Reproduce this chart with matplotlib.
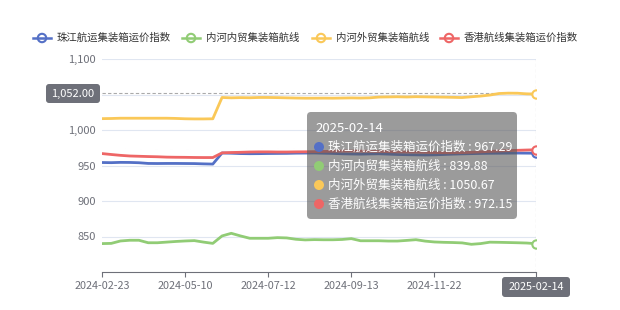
import matplotlib
matplotlib.use('Agg')
import matplotlib.pyplot as plt
from matplotlib.lines import Line2D
from matplotlib.patches import FancyBboxPatch, Circle
import matplotlib.transforms as mtransforms

plt.rcParams['font.family'] = ['Noto Sans CJK SC', 'DejaVu Sans']

dates = ['2024-02-23', '2024-03-01', '2024-03-08', '2024-03-15', '2024-03-22', '2024-03-29',
         '2024-04-12', '2024-04-19', '2024-04-26', '2024-05-10', '2024-05-17', '2024-05-24',
         '2024-05-31', '2024-06-07', '2024-06-14', '2024-06-21', '2024-06-28', '2024-07-05',
         '2024-07-12', '2024-07-19', '2024-07-26', '2024-08-02', '2024-08-09', '2024-08-16',
         '2024-08-23', '2024-08-30', '2024-09-06', '2024-09-13', '2024-09-20', '2024-09-27',
         '2024-10-11', '2024-10-18', '2024-10-25', '2024-11-01', '2024-11-08', '2024-11-15',
         '2024-11-22', '2024-11-29', '2024-12-06', '2024-12-13', '2024-12-20', '2024-12-27',
         '2025-01-03', '2025-01-10', '2025-01-17', '2025-01-24', '2025-02-07', '2025-02-14']

series_names = ['珠江航运集装箱运价指数', '内河内贸集装箱航线', '内河外贸集装箱航线', '香港航线集装箱运价指数']
colors = ['#5470c6', '#91cc75', '#fac858', '#ee6666']

zhujiang = [954.2, 954.0, 954.4, 954.3, 953.9, 952.9, 952.8, 952.9, 952.9, 952.8, 952.7, 952.3,
            952.0, 967.6, 967.3, 966.8, 966.6, 966.7, 966.9, 967.0, 967.1, 967.4, 967.5, 967.6,
            967.3, 967.0, 966.5, 966.2, 966.0, 966.3, 966.5, 966.0, 965.5, 965.2, 965.0, 964.8,
            965.0, 965.5, 966.0, 966.4, 966.7, 967.0, 967.2, 967.3, 967.4, 967.5, 967.4, 967.29]

neihe_neimao = [840.0, 840.3, 843.7, 844.7, 844.7, 841.2, 841.2, 842.1, 843.0, 843.7, 844.2, 842.1,
                840.3, 850.8, 854.5, 850.8, 847.5, 847.5, 847.5, 848.4, 848.0, 846.1, 845.2, 845.6,
                845.4, 845.4, 845.8, 847.0, 844.0, 844.0, 844.0, 843.6, 843.6, 844.5, 845.5, 843.5,
                842.3, 841.8, 841.5, 841.0, 839.0, 840.0, 842.0, 841.8, 841.5, 841.2, 840.8, 839.88]

neihe_waimao = [1016.0, 1016.2, 1016.6, 1016.6, 1016.6, 1016.6, 1016.6, 1016.6, 1016.3, 1015.8,
                1015.6, 1015.6, 1015.8, 1045.8, 1045.3, 1045.6, 1045.4, 1045.8, 1045.8, 1045.6,
                1045.3, 1045.0, 1044.8, 1044.8, 1044.9, 1044.8, 1045.0, 1045.2, 1045.0, 1045.3,
                1046.4, 1046.6, 1046.8, 1046.5, 1046.9, 1046.7, 1046.5, 1046.3, 1046.0, 1045.7,
                1046.8, 1047.8, 1049.2, 1051.4, 1051.9, 1051.8, 1050.9, 1050.67]

xianggang = [966.8, 965.5, 964.3, 963.4, 963.0, 962.6, 962.3, 961.8, 961.6, 961.5, 961.3, 961.2,
             961.2, 967.8, 968.3, 968.6, 969.0, 969.2, 969.2, 969.0, 969.0, 969.2, 969.3, 969.5,
             969.8, 970.0, 970.2, 970.3, 970.2, 970.0, 969.8, 969.5, 969.2, 969.0, 968.8, 968.5,
             968.2, 968.0, 968.0, 968.2, 968.6, 969.2, 969.8, 970.4, 970.9, 971.4, 971.8, 972.15]

all_series = [zhujiang, neihe_neimao, neihe_waimao, xianggang]
yticks = [850, 900, 950, 1000, 1050, 1100]
xtick_idx = [0, 9, 18, 27, 36, 47]
pointer_y = 1052.0

W, H = 620, 310
fig = plt.figure(figsize=(W / 100, H / 100), dpi=100)
# pixel coordinates, origin top-left
px = mtransforms.Affine2D().scale(1 / W, -1 / H).translate(0, 1) + fig.transFigure

ax = fig.add_axes([102 / W, 38 / H, 434 / W, 213 / H])
x = list(range(len(dates)))
for vals, c in zip(all_series, colors):
    ax.plot(x, vals, color=c, lw=2.0, solid_capstyle='round', zorder=3)
    ax.plot(x[-1], vals[-1], 'o', ms=6, mfc='white', mec=c, mew=1.5, zorder=4)

ax.set_xlim(0, len(dates) - 1)
ax.set_ylim(800, 1100)
for s in ['top', 'right', 'left']:
    ax.spines[s].set_visible(False)
ax.spines['bottom'].set_color('#6e7079')
ax.set_yticks(yticks)
# the 1,050 label sits under the axis-pointer label, as in the reference
ax.set_yticklabels(['' if v == 1050 else f'{v:,}' for v in yticks])
ax.tick_params(axis='y', length=0, pad=4.5, labelsize=8, labelcolor='#6e7079')
ax.set_xticks(xtick_idx)
ax.set_xticklabels([dates[i] for i in xtick_idx])
ax.tick_params(axis='x', length=3.6, color='#6e7079', pad=3, labelsize=7.8, labelcolor='#6e7079')
ax.grid(axis='y', color='#e0e6f1', lw=0.8)
ax.set_axisbelow(True)

# axis pointer
ax.axhline(pointer_y, color='#aaaaaa', lw=0.8, ls=(0, (3, 2)), zorder=2)
ax.axvline(len(dates) - 1, color='#aaaaaa', lw=0.8, ls=(0, (3, 2)), zorder=2)

fig.add_artist(FancyBboxPatch((46, 84), 54, 19, boxstyle='round,pad=0,rounding_size=3',
                              fc='#6e7079', ec='none', transform=px))
fig.text(73 / W, 1 - 93.5 / H, f'{pointer_y:,.2f}', color='white', fontsize=8,
         ha='center', va='center')
fig.add_artist(FancyBboxPatch((502, 277), 68, 20, boxstyle='round,pad=0,rounding_size=3',
                              fc='#6e7079', ec='none', transform=px))
fig.text(536 / W, 1 - 287 / H, dates[-1], color='white', fontsize=7.8, ha='center', va='center')

# legend
leg_icon = [33, 182, 312, 440]
for i, (name, c) in enumerate(zip(series_names, colors)):
    x0 = leg_icon[i]
    fig.add_artist(Line2D([x0, x0 + 18], [38, 38], color=c, lw=1.8, transform=px))
    fig.add_artist(Circle((x0 + 9, 38), 4.2, fc='white', ec=c, lw=1.5, transform=px))
    fig.text((x0 + 24) / W, 1 - 38 / H, name, color='#333333', fontsize=7.5, va='center')

# tooltip
fig.add_artist(FancyBboxPatch((307, 112), 210, 107, boxstyle='round,pad=0,rounding_size=4',
                              fc=(0.35, 0.35, 0.35), ec='none', alpha=0.6, transform=px))
fig.text(315 / W, 1 - 129 / H, dates[-1], color='white', fontsize=9.5, va='center')
for i, (name, c, vals) in enumerate(zip(series_names, colors, all_series)):
    yy = 147 + i * 19
    fig.add_artist(Circle((319, yy), 5, fc=c, ec='none', transform=px))
    fig.text(328 / W, 1 - yy / H, f'{name} : {vals[-1]:.2f}', color='white', fontsize=9,
             va='center')

fig.savefig('out.png', dpi=100)
